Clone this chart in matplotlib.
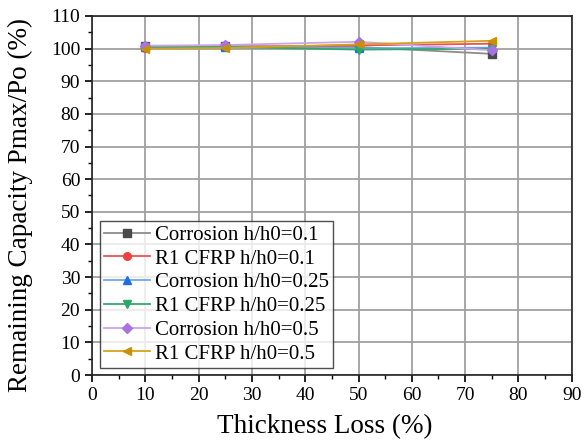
import numpy as np
import matplotlib.pyplot as plt
from matplotlib.ticker import MultipleLocator

plt.rcParams['font.family'] = ['Liberation Serif', 'DejaVu Serif']
plt.rcParams['mathtext.fontset'] = 'stix'

thickness_loss = [10, 25, 50, 75]

corrosion_01 = [100.8, 100.8, 100.5, 98.4]
cfrp_01 = [100.3, 100.5, 101.0, 101.5]
corrosion_025 = [100.6, 100.6, 100.1, 100.3]
cfrp_025 = [100.4, 100.5, 99.7, 100.0]
corrosion_05 = [100.9, 101.1, 102.1, 99.5]
cfrp_05 = [100.0, 100.2, 101.3, 102.4]

series = [
    ("Corrosion h/h0=0.1", corrosion_01, '#8c8c8c', '#4a4a4a', 's'),
    ("R1 CFRP h/h0=0.1", cfrp_01, '#f25050', '#f04040', 'o'),
    ("Corrosion h/h0=0.25", corrosion_025, '#6fa6ec', '#1e6fe0', '^'),
    ("R1 CFRP h/h0=0.25", cfrp_025, '#33a86e', '#2aa866', 'v'),
    ("Corrosion h/h0=0.5", corrosion_05, '#c9a6ec', '#a872e2', 'D'),
    ("R1 CFRP h/h0=0.5", cfrp_05, '#d6a21a', '#c99000', '<'),
]

fig = plt.figure(figsize=(5.84, 4.44), dpi=100)
ax = fig.add_axes([0.1575, 0.1554, 0.8215, 0.8086])

for label, vals, lc, mc, mk in series:
    ax.plot(thickness_loss, vals, color=lc, lw=1.3, marker=mk, ms=5.5,
            mfc=mc, mec=mc, label=label)

ax.set_xlim(0, 90)
ax.set_ylim(0, 110)
ax.xaxis.set_major_locator(MultipleLocator(10))
ax.xaxis.set_minor_locator(MultipleLocator(5))
ax.yaxis.set_major_locator(MultipleLocator(10))
ax.yaxis.set_minor_locator(MultipleLocator(5))
ax.grid(True, which='major', color='#a0a0a0', lw=1.3)
ax.set_axisbelow(True)

ax.tick_params(which='major', direction='out', length=5, width=1.2,
               labelsize=14, colors='black', top=False, right=False)
ax.tick_params(which='minor', direction='out', length=3, width=1.0,
               top=False, right=False)
for s in ax.spines.values():
    s.set_linewidth(1.2)
    s.set_color('#222222')

ax.set_xlabel("Thickness Loss (%)", fontsize=19.5)
ax.set_ylabel("Remaining Capacity Pmax/Po (%)", fontsize=19.5)
ax.xaxis.set_label_coords(0.485, -0.109)
ax.yaxis.set_label_coords(-0.123, 0.474)

leg = ax.legend(loc='lower left', bbox_to_anchor=(0.016, 0.02), fontsize=15,
                frameon=True, fancybox=False, edgecolor='#222222',
                handlelength=2.2, labelspacing=0.2, borderpad=0.2,
                handletextpad=0.25, borderaxespad=0.0)
leg.get_frame().set_linewidth(1.0)

fig.savefig('out.png', dpi=100)
